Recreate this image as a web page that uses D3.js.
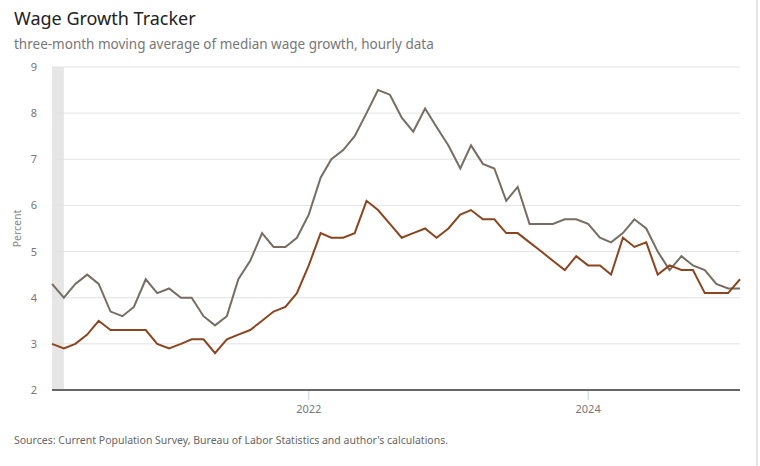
<!DOCTYPE html>
<html><head><meta charset="utf-8">
<script src="https://cdn.jsdelivr.net/npm/d3@7"></script>
<style>body{margin:0;background:#fff}svg{font-family:"Noto Sans",Roboto,sans-serif}</style>
</head><body><svg id="c" width="760" height="466"></svg>
<script>
const startMonth = "2020-03";
const seriesGrey = [4.3,4.0,4.3,4.5,4.3,3.7,3.6,3.8,4.4,4.1,4.2,4.0,4.0,3.6,3.4,3.6,4.4,4.8,5.4,5.1,5.1,5.3,5.8,6.6,7.0,7.2,7.5,8.0,8.5,8.4,7.9,7.6,8.1,7.7,7.3,6.8,7.3,6.9,6.8,6.1,6.4,5.6,5.6,5.6,5.7,5.7,5.6,5.3,5.2,5.4,5.7,5.5,5.0,4.6,4.9,4.7,4.6,4.3,4.2,4.2];
const seriesBrown = [3.0,2.9,3.0,3.2,3.5,3.3,3.3,3.3,3.3,3.0,2.9,3.0,3.1,3.1,2.8,3.1,3.2,3.3,3.5,3.7,3.8,4.1,4.7,5.4,5.3,5.3,5.4,6.1,5.9,5.6,5.3,5.4,5.5,5.3,5.5,5.8,5.9,5.7,5.7,5.4,5.4,5.2,5.0,4.8,4.6,4.9,4.7,4.7,4.5,5.3,5.1,5.2,4.5,4.7,4.6,4.6,4.1,4.1,4.1,4.4];
const yTicks = [2,3,4,5,6,7,8,9];
const xTickYears = [2022,2024];
const recession = ["2020-03","2020-04"];

const parse = d3.timeParse("%Y-%m");
const t0 = parse(startMonth);
const dates = seriesGrey.map((_,i)=>d3.timeMonth.offset(t0,i));
const svg = d3.select("#c");
const L=52,R=740,T=67,B=390;
const x = d3.scaleTime().domain([dates[0],dates[dates.length-1]]).range([L,R]);
const y = d3.scaleLinear().domain([2,9]).range([B,T]);

svg.append("text").attr("x",14).attr("y",25).attr("font-size",18).attr("fill","#222").text("Wage Growth Tracker");
svg.append("text").attr("x",14).attr("y",49).attr("font-size",13.5).attr("fill","#777").text("three-month moving average of median wage growth, hourly data");
svg.append("text").attr("x",14).attr("y",444).attr("font-size",10.5).attr("fill","#666").text("Sources: Current Population Survey, Bureau of Labor Statistics and author's calculations.");

svg.append("rect").attr("x",x(parse(recession[0]))).attr("y",T).attr("width",x(parse(recession[1]))-x(parse(recession[0]))).attr("height",B-T).attr("fill","#e6e6e6");

const gy = svg.append("g");
yTicks.forEach(v=>{
  if(v>2) gy.append("line").attr("x1",L).attr("x2",R).attr("y1",y(v)).attr("y2",y(v)).attr("stroke","#e3e3e3");
  gy.append("text").attr("x",37).attr("y",y(v)+4).attr("text-anchor","end").attr("font-size",11).attr("fill","#777").text(v);
});
svg.append("text").attr("transform",`translate(21,${(T+B)/2}) rotate(-90)`).attr("text-anchor","middle").attr("font-size",10.5).attr("fill","#888").text("Percent");

xTickYears.forEach(yr=>{
  const xx = x(new Date(yr,0,1));
  svg.append("line").attr("x1",xx).attr("x2",xx).attr("y1",B).attr("y2",B+10).attr("stroke","#c8d0dc");
  svg.append("text").attr("x",xx).attr("y",B+23).attr("text-anchor","middle").attr("font-size",11).attr("fill","#777").text(yr);
});
svg.append("line").attr("x1",L).attr("x2",R).attr("y1",B).attr("y2",B).attr("stroke","#666").attr("stroke-width",2);
svg.append("line").attr("x1",757).attr("x2",757).attr("y1",0).attr("y2",466).attr("stroke","#ccc");

const line = d3.line().x((d,i)=>x(dates[i])).y(d=>y(d));
svg.append("path").datum(seriesGrey).attr("d",line).attr("fill","none").attr("stroke","#776d62").attr("stroke-width",2);
svg.append("path").datum(seriesBrown).attr("d",line).attr("fill","none").attr("stroke","#8b4620").attr("stroke-width",2);
</script></body></html>
